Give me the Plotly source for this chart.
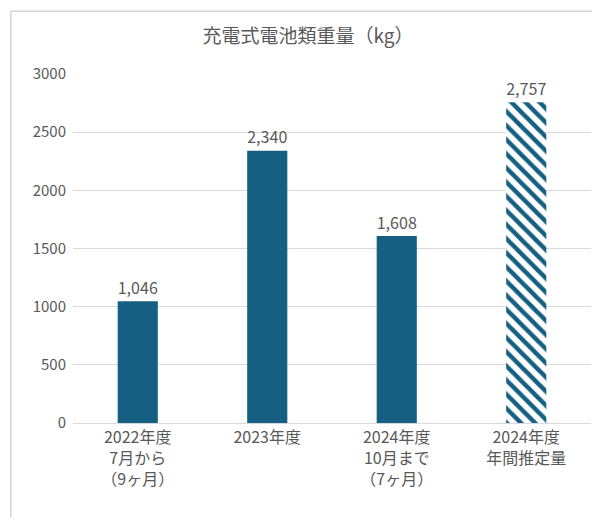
import plotly.graph_objects as go

categories = ["2022年度<br>7月から<br>（9ヶ月）", "2023年度", "2024年度<br>10月まで<br>（7ヶ月）", "2024年度<br>年間推定量"]
values = [1046, 2340, 1608, 2757]
labels = ["1,046", "2,340", "1,608", "2,757"]

blue = "#156082"
gray = "#595959"
font = "Noto Sans CJK JP"

fig = go.Figure()
fig.add_trace(go.Bar(
    x=categories, y=values,
    text=labels, textposition="outside", cliponaxis=False,
    textfont=dict(size=22, color=gray, family=font),
    marker=dict(
        color=blue,
        line=dict(width=0),
        pattern=dict(shape=["", "", "", "\\"], fgcolor=blue, bgcolor="white",
                     size=10, solidity=0.45, fillmode="replace"),
    ),
))

fig.update_layout(
    width=600, height=517,
    margin=dict(l=65, r=17, t=66, b=102),
    paper_bgcolor="white", plot_bgcolor="white",
    title=dict(text="充電式電池類重量（kg）", x=0.5, xanchor="center",
               yref="container", y=0.946, yanchor="middle",
               font=dict(size=19, color=gray, family=font)),
    bargap=0.69,
    showlegend=False,
    font=dict(family=font, color=gray),
    xaxis=dict(tickfont=dict(size=16, color=gray), showline=True, linecolor="#d9d9d9"),
    yaxis=dict(range=[0, 3000], dtick=500, tickfont=dict(size=15, color=gray),
               gridcolor="#d9d9d9", zeroline=False, ticklabelstandoff=6),
    shapes=[dict(type="rect", xref="paper", yref="paper", x0=-0.12, y0=-0.285, x1=1.025, y1=1.18,
                 line=dict(color="#bfbfbf", width=1))],
)

fig.write_html("out.html")
